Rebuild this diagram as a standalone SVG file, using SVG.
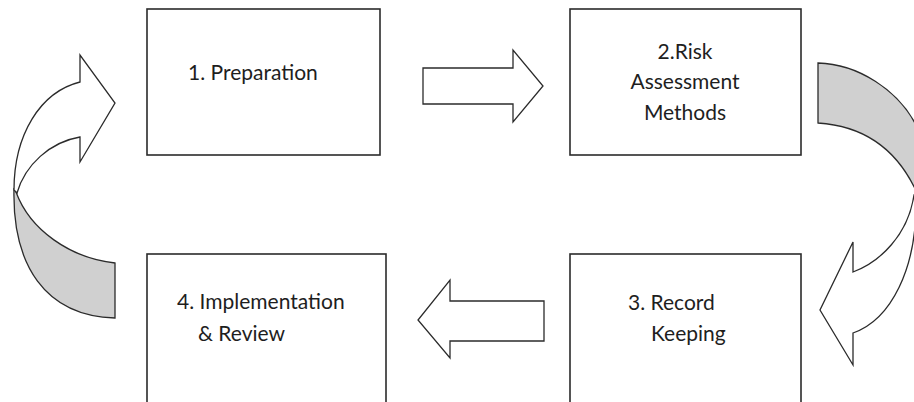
<svg xmlns="http://www.w3.org/2000/svg" width="914" height="402" viewBox="0 0 914 402">
<style>
.box{fill:#fff;stroke:#2b2b2b;stroke-width:1.6}
.arr{fill:#fff;stroke:#2b2b2b;stroke-width:1.3;stroke-linejoin:miter}
.back{fill:#d0d0d0;stroke:#2b2b2b;stroke-width:1.3}
.t{font-family:Lato,"Open Sans",sans-serif;font-size:21px;fill:#1e1e1e}
</style>
<rect width="914" height="402" fill="#fff"/>
<g id="node1">
<rect class="box" x="147" y="9" width="233" height="146"/>
<text class="t" x="188" y="80">1. Preparation</text>
</g>
<g id="node2">
<rect class="box" x="570" y="9" width="231" height="146"/>
<text class="t" x="685" y="59" text-anchor="middle">2.Risk</text>
<text class="t" x="685" y="89" text-anchor="middle">Assessment</text>
<text class="t" x="685" y="120" text-anchor="middle">Methods</text>
</g>
<g id="node3">
<rect class="box" x="570" y="254" width="231" height="160"/>
<text class="t" x="628" y="310">3. Record</text>
<text class="t" x="651" y="341">Keeping</text>
</g>
<g id="node4">
<rect class="box" x="147" y="254" width="239" height="160"/>
<text class="t" x="177" y="309">4. Implementation</text>
<text class="t" x="198" y="341">&amp; Review</text>
</g>
<g id="connectors">
<path class="arr" d="M423,68 L513,68 L513,50 L543,86 L513,122 L513,104 L423,104 Z"/>
<path class="arr" d="M544,301 L450,301 L450,280 L418,320 L450,358 L450,341 L544,341 Z"/>
<path class="back" d="M14,188 C12,265 45,316 115,318 L115,263 C70,258 30,230 16,192 Z"/>
<path class="arr" d="M80,82 L80,55 L115,103 L80,162 L80,137 C50,142 25,165 17,193 L14,190 C14,135 40,92 80,82 Z"/>
<path class="back" d="M818,63 C858,64 898,90 916,125 L920,200 C900,150 865,126 818,123 Z"/>
<path class="arr" d="M916,195 C918,270 890,320 853,333 L853,365 L820,310 L853,242 L853,272 C880,262 908,235 914,195 Z"/>
</g>
</svg>
